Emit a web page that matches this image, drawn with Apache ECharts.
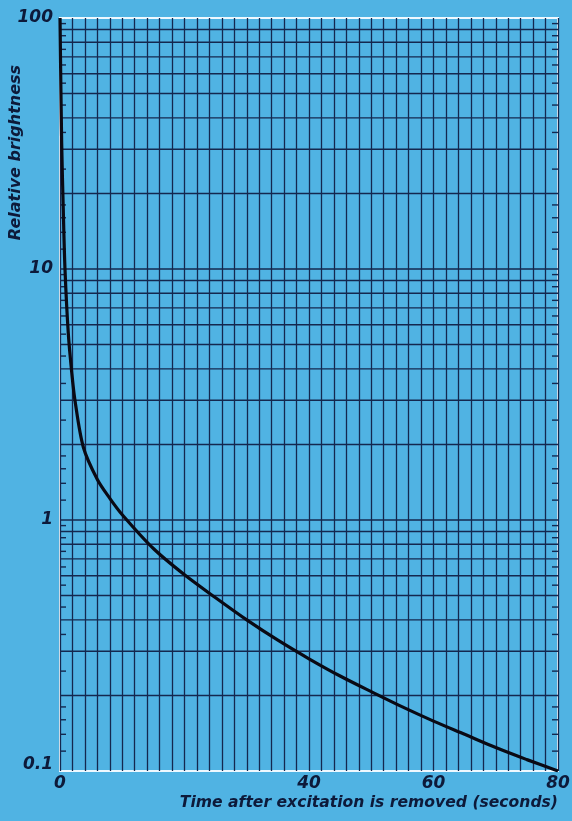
<!DOCTYPE html>
<html>
<head>
<meta charset="utf-8">
<script src="https://cdn.jsdelivr.net/npm/echarts@6/dist/echarts.min.js"></script>
<style>
html,body{margin:0;padding:0;background:#50b3e3;}
#chart{width:572px;height:821px;}
</style>
</head>
<body>
<div id="chart"></div>
<script>
// ---- data ----
const timeSec = [0, 0.27, 0.53, 0.8, 1.34, 1.9, 2.4, 3.75, 6, 8, 10, 15, 20, 25, 30, 35, 40, 45, 50, 55, 60, 65, 70, 75, 80];
const brightness = [100, 31.6, 17.1, 10, 5.5, 3.84, 3.0, 1.95, 1.45, 1.22, 1.05, 0.77, 0.605, 0.49, 0.40, 0.332, 0.280, 0.239, 0.207, 0.180, 0.158, 0.140, 0.124, 0.111, 0.100];
const xTickLabels = [0, 40, 60, 80];
const yTickLabels = [0.1, 1, 10, 100];
const decades = [0.1, 1, 10];
const gridMultipliers = [2, 3, 4, 5, 6, 7, 8, 9];
const edgeTickMultipliers = [1.2, 1.4, 1.6, 1.8, 2.5, 3.5, 4.5, 5.5, 6.5, 7.5, 8.5, 9.5];

const gridValues = [];
const edgeTickValues = [];
decades.forEach(d => {
  if (d > 0.1) gridValues.push(d);
  gridMultipliers.forEach(m => gridValues.push(+(m * d).toPrecision(3)));
  edgeTickMultipliers.forEach(m => edgeTickValues.push(+(m * d).toPrecision(3)));
});

const curve = timeSec.map((t, i) => [t, brightness[i]]);
const ink = '#0d1a3a';
const gridInk = '#14284f';
const fontFam = '"DejaVu Sans", "Liberation Sans", sans-serif';

const chart = echarts.init(document.getElementById('chart'));
chart.setOption({
  backgroundColor: '#50b3e3',
  animation: false,
  grid: { left: 60, right: 14, top: 18, bottom: 50, containLabel: false, outerBoundsMode: 'none', show: true, borderColor: '#eef8ff', borderWidth: 2, backgroundColor: 'transparent' },
  xAxis: {
    type: 'value', min: 0, max: 80, interval: 10,
    axisLine: { show: false }, axisTick: { show: false },
    splitLine: { show: true, lineStyle: { color: gridInk, width: 1.3 } },
    minorTick: { show: false, splitNumber: 5 },
    minorSplitLine: { show: true, lineStyle: { color: gridInk, width: 1.3 } },
    axisLabel: {
      margin: 4, color: ink, fontSize: 17, fontStyle: 'italic', fontWeight: 'bold', fontFamily: fontFam,
      formatter: v => xTickLabels.indexOf(v) >= 0 ? String(v) : ''
    },
    name: 'Time after excitation is removed (seconds)',
    nameLocation: 'end', nameGap: 0, nameMoveOverlap: false,
    nameTextStyle: { align: 'right', verticalAlign: 'top', padding: [24, 0, 0, 0], color: ink, fontSize: 15.6, fontStyle: 'italic', fontWeight: 'bold', fontFamily: fontFam }
  },
  yAxis: {
    type: 'log', logBase: 10, min: 0.1, max: 100,
    axisLine: { show: false }, axisTick: { show: false },
    splitLine: { show: false },
    axisLabel: {
      margin: 7, color: ink, fontSize: 17, fontStyle: 'italic', fontWeight: 'bold', fontFamily: fontFam,
      formatter: v => {
        const hit = yTickLabels.find(t => Math.abs(t - v) < 1e-9);
        if (hit === undefined) return '';
        return hit === 0.1 ? '{low|0.1}' : String(hit);
      },
      rich: { low: { color: ink, fontSize: 17, fontStyle: 'italic', fontWeight: 'bold', fontFamily: fontFam, padding: [0, 0, 12, 0] } }
    },
    name: 'Relative brightness',
    nameLocation: 'middle', nameGap: 36, nameMoveOverlap: false,
    nameTextStyle: { padding: [0, 0, 0, 484], color: ink, fontSize: 16, fontStyle: 'italic', fontWeight: 'bold', fontFamily: fontFam }
  },
  series: [
    {
      type: 'custom', silent: true, z: 1,
      data: gridValues.map(v => [0, v]),
      renderItem: (params, api) => {
        const y = api.coord([0, api.value(1)])[1];
        const cs = params.coordSys;
        return { type: 'line', shape: { x1: cs.x, y1: y, x2: cs.x + cs.width, y2: y }, style: { stroke: gridInk, lineWidth: 1.4 } };
      }
    },
    {
      type: 'custom', silent: true, z: 1,
      data: edgeTickValues.map(v => [0, v]),
      renderItem: (params, api) => {
        const y = api.coord([0, api.value(1)])[1];
        const cs = params.coordSys;
        return { type: 'group', children: [
          { type: 'line', shape: { x1: cs.x, y1: y, x2: cs.x + 6, y2: y }, style: { stroke: gridInk, lineWidth: 1.4 } },
          { type: 'line', shape: { x1: cs.x + cs.width - 6, y1: y, x2: cs.x + cs.width, y2: y }, style: { stroke: gridInk, lineWidth: 1.4 } }
        ] };
      }
    },
    {
      type: 'line', z: 5, data: curve, smooth: 0.3, showSymbol: false, silent: true,
      lineStyle: { color: '#0a0a14', width: 3.2 }
    }
  ]
});
</script>
</body>
</html>
